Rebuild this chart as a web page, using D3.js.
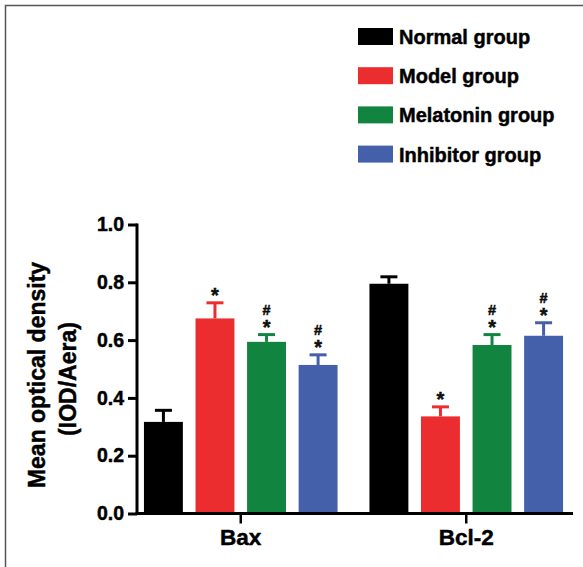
<!DOCTYPE html>
<html>
<head>
<meta charset="utf-8">
<script src="https://cdn.jsdelivr.net/npm/d3@7"></script>
<style>
  body { margin: 0; background: #fff; }
  svg { display: block; font-family: "Liberation Sans", Arial, sans-serif; font-weight: bold; }
  svg text { stroke: #000; stroke-width: 0.45px; }
</style>
</head>
<body>
<div id="chart"></div>
<script>
// values
var proteins = ["Bax", "Bcl-2"];
var groups = ["Normal group", "Model group", "Melatonin group", "Inhibitor group"];
var colors = ["#000000", "#ec2d30", "#118540", "#4560ab"];
var meanBax = [0.317, 0.675, 0.594, 0.514];
var errBax = [0.040, 0.054, 0.025, 0.035];
var meanBcl = [0.795, 0.336, 0.583, 0.615];
var errBcl = [0.024, 0.033, 0.036, 0.045];
// significance marks above each bar
var marksBax = [[], ["*"], ["*", "#"], ["*", "#"]];
var marksBcl = [[], ["*"], ["*", "#"], ["*", "#"]];
var yTicks = [0, 0.2, 0.4, 0.6, 0.8, 1.0];

var W = 583, H = 567;
var svg = d3.select("#chart").append("svg")
    .attr("width", W).attr("height", H);

// frame (top and left edges only, like the scan)
svg.append("path")
    .attr("d", "M5.5,567 V5.5 H583")
    .attr("fill", "none").attr("stroke", "#555").attr("stroke-width", 1.5);

var axisLeft = 137, axisRight = 573, y0 = 513.5, y1 = 224.5;

var y = d3.scaleLinear().domain([0, 1]).range([y0, y1]);
var x0 = d3.scaleBand().domain(proteins).range([128, 579]);
var x1 = d3.scaleBand().domain(groups).range([0, 193.6]).paddingInner(0.245).paddingOuter(0);
var off = (x0.bandwidth() - 193.6) / 2;

var data = [];
proteins.forEach(function(p, i) {
    var m = i == 0 ? meanBax : meanBcl;
    var e = i == 0 ? errBax : errBcl;
    var mk = i == 0 ? marksBax : marksBcl;
    groups.forEach(function(g, j) {
        data.push({p: p, g: g, v: m[j], e: e[j], marks: mk[j], c: colors[j]});
    });
});

function cx(d) { return x0(d.p) + off + x1(d.g) + x1.bandwidth() / 2; }

var bars = svg.append("g");
bars.selectAll("rect")
    .data(data)
    .enter().append("rect")
    .attr("x", function(d) { return x0(d.p) + off + x1(d.g); })
    .attr("y", function(d) { return y(d.v); })
    .attr("width", x1.bandwidth())
    .attr("height", function(d) { return y0 - y(d.v); })
    .attr("fill", function(d) { return d.c; });

// error bars (upper only)
var eb = svg.append("g").selectAll("g")
    .data(data).enter().append("g")
    .attr("stroke", function(d) { return d.c; })
    .attr("stroke-width", 3);
eb.append("line")
    .attr("x1", cx).attr("x2", cx)
    .attr("y1", function(d) { return y(d.v); })
    .attr("y2", function(d) { return y(d.v + d.e); });
eb.append("line")
    .attr("x1", function(d) { return cx(d) - 8.5; })
    .attr("x2", function(d) { return cx(d) + 8.5; })
    .attr("y1", function(d) { return y(d.v + d.e); })
    .attr("y2", function(d) { return y(d.v + d.e); });

// * and # marks
data.forEach(function(d) {
    var top = y(d.v + d.e);
    d.marks.forEach(function(m) {
        svg.append("text")
            .attr("x", cx(d))
            .attr("y", m == "*" ? top - 0.5 : top - 20)
            .attr("text-anchor", "middle")
            .attr("font-size", m == "*" ? 20 : 14.5)
            .attr("fill", "#111")
            .text(m);
    });
});

// y axis
var yAxis = svg.append("g")
    .attr("transform", "translate(" + axisLeft + ",0)")
    .call(d3.axisLeft(y).tickValues(yTicks).tickFormat(d3.format(".1f")).tickSize(9).tickPadding(4));
yAxis.select(".domain").remove();
yAxis.append("line").attr("x1", 0).attr("x2", 0).attr("y1", y1 - 1).attr("y2", y0 + 1.5)
    .attr("stroke", "#000").attr("stroke-width", 3);
yAxis.selectAll(".tick line").attr("stroke-width", 3);
yAxis.selectAll(".tick text").attr("font-size", 19.5).attr("fill", "#000")
    .attr("font-family", "Liberation Sans, Arial, sans-serif").attr("font-weight", "bold");

// x axis
var xAxis = svg.append("g")
    .attr("transform", "translate(0," + y0 + ")")
    .call(d3.axisBottom(x0).tickSize(10).tickPadding(6));
xAxis.select(".domain").remove();
xAxis.append("line").attr("x1", axisLeft - 1.5).attr("x2", axisRight).attr("y1", 0).attr("y2", 0)
    .attr("stroke", "#000").attr("stroke-width", 3);
xAxis.selectAll(".tick line").attr("stroke-width", 2.5);
xAxis.selectAll(".tick text").attr("font-size", 22.5).attr("fill", "#000")
    .attr("font-family", "Liberation Sans, Arial, sans-serif").attr("font-weight", "bold");

// y axis title
var yt = svg.append("text")
    .attr("transform", "translate(45,375) rotate(-90)")
    .attr("text-anchor", "middle")
    .attr("font-size", 23)
    .attr("fill", "#000");
yt.append("tspan").attr("x", 0).attr("y", 0).text("Mean optical density");
yt.append("tspan").attr("x", -4).attr("y", 31).text("(IOD/Aera)");

// legend
var leg = svg.append("g").attr("transform", "translate(358,28)");
var item = leg.selectAll("g").data(groups).enter().append("g")
    .attr("transform", function(d, i) { return "translate(0," + (i * 39.2) + ")"; });
item.append("rect").attr("width", 35).attr("height", 17)
    .attr("fill", function(d, i) { return colors[i]; });
item.append("text").attr("x", 41).attr("y", 16)
    .attr("font-size", 20).attr("fill", "#000")
    .text(function(d) { return d; });
</script>
</body>
</html>
